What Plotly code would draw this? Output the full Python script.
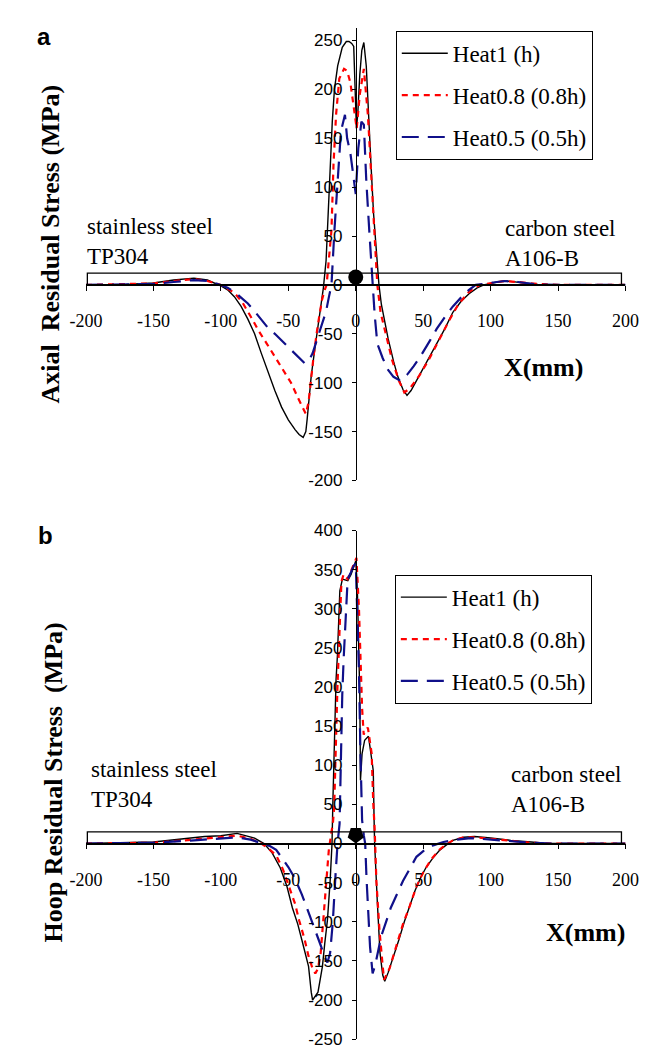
import plotly.graph_objects as go

# ---------------- DATA ----------------
SERIES_NAMES = ["Heat1 (h)", "Heat0.8 (0.8h)", "Heat0.5 (0.5h)"]
X_TICKS = [-200, -150, -100, -50, 0, 50, 100, 150, 200]
Y_TICKS_A = [-200, -150, -100, -50, 0, 50, 100, 150, 200, 250]
Y_TICKS_B = [-250, -200, -150, -100, -50, 0, 50, 100, 150, 200, 250, 300, 350, 400]

# Panel a: axial residual stress
AX1_X = [-200, -170, -150, -135, -120, -110, -100, -95, -90, -85, -80, -75, -70, -65, -60, -55, -50, -45, -42, -39,
         -37, -36, -33, -30, -28, -26, -24, -22, -20.5, -19.3, -17.4, -15.8, -13.4, -10, -7, -5, -3, -1.5, -0.5, 0.5,
         1.5, 3, 4.5, 6, 7.8, 9.4, 11.3, 13.2, 15.3, 17.2, 19, 21, 24, 28, 31, 35, 38, 41, 45, 50,
         55, 60, 66, 72, 78, 84, 90, 95, 105, 112, 120, 135, 150, 200]
AX1_Y = [0, 0.5, 2, 5, 7, 5, -1, -5, -12, -22, -35, -50, -70, -90, -108, -125, -138, -148, -153, -156,
         -150, -137, -93, -62, -43, -22, -3, 25, 73, 123, 167, 200, 224, 243, 249, 249, 247, 244, 200, 160,
         175, 215, 240, 248, 224, 174, 123, 73, 33, 0, -20, -35, -55, -78, -93, -107, -113, -108, -98, -85,
         -72, -60, -45, -28, -17, -9, -3, 0, 3, 4, 3, 0.5, 0, 0]

AX08_X = [-200, -150, -135, -120, -110, -100, -90, -84, -78, -72, -66, -60, -54, -48, -43, -39, -37, -35, -33, -31,
          -28, -25, -23, -21.6, -18, -16.5, -14.6, -12.2, -8.7, -6.4, -4, -2, 0.7, 3, 6, 9, 11.3, 13.6, 16, 18.4,
          21, 27, 32, 36, 40, 47, 54, 61, 69, 76, 84, 92, 100, 110, 120, 135, 150, 200]
AX08_Y = [0, 1.5, 4, 6, 4, 0, -8, -18, -32, -47, -60, -73, -87, -100, -115, -127, -132, -120, -95, -70,
          -40, -15, -5, 0, 56, 123, 174, 211, 221, 219, 207, 185, 160, 195, 221, 174, 113, 56, 0, -28,
          -43, -77, -98, -110, -106, -93, -77, -58, -37, -20, -7, 0, 2, 4, 3, 1, 0, 0]

AX05_X = [-200, -150, -135, -120, -110, -100, -95, -90, -85, -80, -75, -70, -65, -60, -55, -50, -45, -41, -38, -35,
          -32, -29, -26, -22, -20, -18, -15.8, -13.4, -11, -8, -6.4, -4, -2, 0, 1.9, 4.2, 6, 7.8, 10, 12.5,
          14, 16, 20, 24, 28, 33, 38, 43, 48, 55, 60, 66, 72, 78, 84, 89, 100, 110, 120, 135, 150, 200]
AX05_Y = [0, 1, 3, 5, 4, 0, -3, -7, -13, -19, -27, -35, -44, -50, -57, -63, -70, -76, -80, -78,
          -70, -57, -43, -27, -13, 0, 56, 107, 157, 174, 150, 135, 112, 93, 140, 167, 164, 107, 56, 0,
          -30, -60, -75, -87, -94, -98, -92, -83, -73, -57, -45, -33, -22, -13, -5, 0, 2, 4, 3, 0.5, 0, 0]

# Panel b: hoop residual stress
HP1_X = [-200, -150, -112, -100, -88, -75, -68, -62, -56, -51, -47, -43, -40, -37, -35, -33, -32, -30, -28, -26,
         -24.7, -23, -21, -19, -17.6, -17, -16, -15.3, -14.6, -13.6, -13, -11.8, -9.9, -5.9, -3.5, 0, 1.2, 2.4, 3, 3.5,
         4.7, 6.6, 9.4, 10.6, 13, 13.6, 14, 16, 18, 20, 21.5, 24, 28, 32, 36, 40, 44, 48, 52, 57,
         62, 67, 72, 80, 88, 100, 115, 130, 140, 150, 200]
HP1_Y = [0, 2, 9, 10, 13, 7, 0, -12, -31, -55, -82, -103, -123, -143, -157, -190, -200, -195, -190, -170,
         -157, -128, -98, -48, 0, 50, 121, 172, 210, 240, 269, 323, 338, 336, 344, 361, 323, 240, 190, 81,
         115, 132, 137, 123, 93, 30, 0, -75, -140, -168, -176, -165, -145, -123, -100, -80, -60, -44, -31, -19,
         -9, -2, 4, 8, 9, 7, 4, 2, 0.5, 0, 0]

HP08_X = [-200, -150, -120, -100, -88, -78, -70, -65, -59, -54, -49, -45, -42, -38, -35, -32, -30, -28, -26, -24,
          -22, -20, -18, -17, -16, -15.2, -14.6, -13.6, -11.8, -10.6, -9, -6, -2.4, 0.5, 2.4, 3.5, 4.7, 5.9, 7, 9,
          11.8, 13, 14, 15.3, 17.6, 20, 21, 25, 30, 35, 40, 45, 50, 56, 62, 67, 72, 80, 88, 100,
          115, 130, 145, 200]
HP08_Y = [0, 1, 5, 8, 10, 6, 0, -6, -15, -33, -56, -77, -98, -122, -144, -160, -166, -160, -140, -100,
          -55, -9, 15, 25, 45, 100, 148, 198, 282, 335, 344, 338, 353, 365, 299, 240, 173, 139, 145, 148,
          115, 51, 20, -48, -111, -157, -174, -160, -130, -103, -80, -55, -37, -20, -8, -1, 4, 8, 8, 6,
          3, 1, 0, 0]

HP05_X = [-200, -150, -120, -100, -88, -78, -70, -64, -59, -55, -50, -45, -40, -35, -30, -26, -23, -21, -19, -17,
          -15, -13.5, -12, -11, -10, -9, -8, -7, -6, -4, -1.5, 0, 1.2, 2.4, 3.5, 4.7, 6, 7, 8, 10.6,
          12.5, 14.5, 18.8, 26, 35, 45, 52, 58, 65, 75, 85, 100, 115, 130, 145, 200]
HP05_Y = [0, 1, 4, 7, 8, 5, 0, -3, -8, -18, -30, -45, -65, -88, -110, -130, -145, -152, -140, -100,
          -40, 0, 25, 120, 190, 235, 275, 310, 338, 345, 355, 358, 300, 219, 114, 30, 10, 0, -45, -132,
          -166, -155, -119, -82, -48, -17, -7, -2, 2, 5, 7, 5, 3, 1, 0, 0]

# pipe-wall schematic and weld bead (MPa / mm units)
PIPE_X = [-199, 197]
PIPE_TOP_A = 12
PIPE_TOP_B = 15
WELD_X = [0]
WELD_Y_A = [8]
WELD_Y_B = [11]

for xs, ys in [(AX1_X, AX1_Y), (AX08_X, AX08_Y), (AX05_X, AX05_Y),
               (HP1_X, HP1_Y), (HP08_X, HP08_Y), (HP05_X, HP05_Y)]:
    assert len(xs) == len(ys), (len(xs), len(ys))

# ---------------- LAYOUT GEOMETRY ----------------
W, H = 662, 1049
XDOM = [64 / W, 630 / W]
RANGE_A = [-200, 263]
RANGE_B = [-250, 400]
YDOM_A = [1 - 472 / H, 1 - 11 / H]
YDOM_B = [1 - 1041 / H, 1 - 523 / H]


def zero_pos(dom, rng):
    return dom[0] + (0 - rng[0]) / (rng[1] - rng[0]) * (dom[1] - dom[0])


YAXIS_POS = XDOM[0] + 0.5 * (XDOM[1] - XDOM[0])

SERIF = "Liberation Serif, Times New Roman, serif"
SANS = "Liberation Sans, Arial, sans-serif"
COLORS = ["#000000", "#ff0000", "#10108a"]
DASHES = ["solid", "6px,5px", "17px,9px"]
WIDTHS = [1.4, 2.2, 2.2]

fig = go.Figure()

panel_a = [(AX1_X, AX1_Y), (AX08_X, AX08_Y), (AX05_X, AX05_Y)]
panel_b = [(HP1_X, HP1_Y), (HP08_X, HP08_Y), (HP05_X, HP05_Y)]

for i, (xs, ys) in enumerate(panel_a):
    fig.add_trace(go.Scatter(x=xs, y=ys, mode="lines", name=SERIES_NAMES[i],
                             line=dict(color=COLORS[i], dash=DASHES[i], width=WIDTHS[i]),
                             xaxis="x", yaxis="y", legend="legend", legendgroup="a%d" % i))
for i, (xs, ys) in enumerate(panel_b):
    fig.add_trace(go.Scatter(x=xs, y=ys, mode="lines", name=SERIES_NAMES[i],
                             line=dict(color=COLORS[i], dash=DASHES[i], width=WIDTHS[i]),
                             xaxis="x2", yaxis="y2", legend="legend2", legendgroup="b%d" % i))

fig.add_trace(go.Scatter(x=WELD_X, y=WELD_Y_A, mode="markers", showlegend=False,
                         marker=dict(symbol="circle", size=15, color="black"), xaxis="x", yaxis="y"))
fig.add_trace(go.Scatter(x=WELD_X, y=WELD_Y_B, mode="markers", showlegend=False,
                         marker=dict(symbol="pentagon", angle=180, size=17, color="black"), xaxis="x2", yaxis="y2"))

shapes = [
    dict(type="rect", xref="x", yref="y", x0=PIPE_X[0], x1=PIPE_X[1], y0=0, y1=PIPE_TOP_A,
         line=dict(color="black", width=1.3), fillcolor="rgba(0,0,0,0)"),
    dict(type="rect", xref="x2", yref="y2", x0=PIPE_X[0], x1=PIPE_X[1], y0=0, y1=PIPE_TOP_B,
         line=dict(color="black", width=1.3), fillcolor="rgba(0,0,0,0)"),
]


def xaxis_cfg(ydom, yrng):
    return dict(domain=XDOM, range=[-200, 200], anchor="free", position=zero_pos(ydom, yrng),
                showline=True, linecolor="black", linewidth=1.6, ticks="outside", ticklen=5,
                tickcolor="black", tickvals=X_TICKS, ticktext=[str(v) for v in X_TICKS],
                tickfont=dict(family=SERIF, size=18, color="black"), showgrid=False, zeroline=False,
                ticklabelstandoff=15, fixedrange=True)


def yaxis_cfg(ydom, yrng, ticks):
    return dict(domain=ydom, range=yrng, anchor="free", position=YAXIS_POS,
                showline=True, linecolor="black", linewidth=1, ticks="outside", ticklen=4,
                tickcolor="black", tickvals=ticks, ticktext=[str(v) for v in ticks],
                tickfont=dict(family=SANS, size=17, color="black"), showgrid=False, zeroline=False,
                ticklabelstandoff=6, fixedrange=True)


def legend_cfg(x, y):
    return dict(x=x, y=y, xanchor="left", yanchor="top", bordercolor="black", borderwidth=1,
                bgcolor="white", font=dict(family=SERIF, size=23, color="black"),
                traceorder="grouped", tracegroupgap=9, itemwidth=46)


def ann(text, x, y, size, family, bold=False, angle=0, xanchor="center", yanchor="middle", align="center"):
    if bold:
        text = "<b>%s</b>" % text
    return dict(text=text, x=x / W, y=1 - y / H, xref="paper", yref="paper", showarrow=False,
                textangle=angle, xanchor=xanchor, yanchor=yanchor, align=align,
                font=dict(family=family, size=size, color="black"))


annotations = [
    ann("a", 20, 20, 24, SANS, bold=True),
    ann("b", 22, 528, 24, SANS, bold=True),
    ann("Axial\u00a0 Residual Stress (MPa)", 27, 231, 26, SERIF, bold=True, angle=-90),
    ann("Hoop Residual Stress\u00a0 (MPa)", 30, 780, 26, SERIF, bold=True, angle=-90),
    ann("X(mm)", 544, 357, 26, SERIF, bold=True),
    ann("X(mm)", 588, 932, 26, SERIF, bold=True),
    ann("stainless steel<br>TP304", 63, 229, 23, SERIF, xanchor="left", align="left"),
    ann("carbon steel<br>A106-B", 501, 231, 23, SERIF, xanchor="left", align="left"),
    ann("stainless steel<br>TP304", 67, 782, 23, SERIF, xanchor="left", align="left"),
    ann("carbon steel<br>A106-B", 508, 787, 23, SERIF, xanchor="left", align="left"),
]

fig.update_layout(
    width=W, height=H, margin=dict(l=0, r=0, t=0, b=0),
    paper_bgcolor="white", plot_bgcolor="white",
    xaxis=xaxis_cfg(YDOM_A, RANGE_A),
    yaxis=yaxis_cfg(YDOM_A, RANGE_A, Y_TICKS_A),
    xaxis2=xaxis_cfg(YDOM_B, RANGE_B),
    yaxis2=yaxis_cfg(YDOM_B, RANGE_B, Y_TICKS_B),
    legend=legend_cfg(389 / W, 1 - 14 / H),
    legend2=legend_cfg(388 / W, 1 - 568 / H),
    shapes=shapes,
    annotations=annotations,
    showlegend=True,
)

fig.write_html("out.html")
